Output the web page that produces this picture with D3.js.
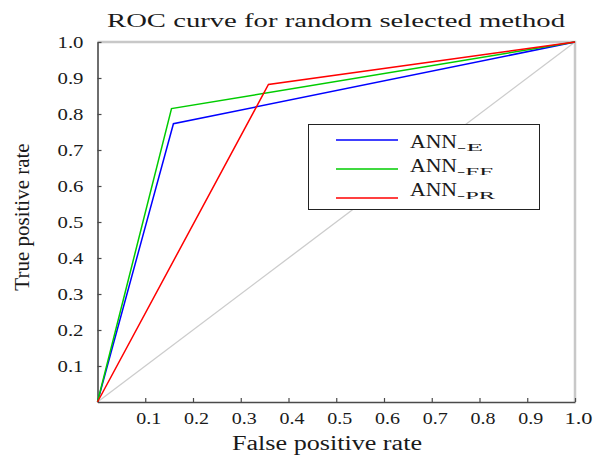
<!DOCTYPE html>
<html>
<head>
<meta charset="utf-8">
<script src="https://cdn.jsdelivr.net/npm/d3@7"></script>
<style>
  html, body { margin: 0; padding: 0; background: #fff; }
</style>
</head>
<body>
<svg id="chart" width="594" height="457"></svg>
<script>
// ROC operating points per model: false positive rate, true positive rate
const seriesNames = ["ANN", "ANN", "ANN"];
const seriesSubs = ["-E", "-FF", "-PR"];
const seriesColors = ["#0000ff", "#00cc00", "#ff0000"];
const fprE  = [0, 0.159, 1];
const tprE  = [0, 0.773, 1];
const fprFF = [0, 0.155, 1];
const tprFF = [0, 0.815, 1];
const fprPR = [0, 0.358, 1];
const tprPR = [0, 0.882, 1];
const chanceLine = [0, 1];
const xTicks = [0.1, 0.2, 0.3, 0.4, 0.5, 0.6, 0.7, 0.8, 0.9, 1.0];
const yTicks = [0.1, 0.2, 0.3, 0.4, 0.5, 0.6, 0.7, 0.8, 0.9, 1.0];

const series = [
  { x: fprE,  y: tprE },
  { x: fprFF, y: tprFF },
  { x: fprPR, y: tprPR }
].map((s, i) => ({ name: seriesNames[i], sub: seriesSubs[i], color: seriesColors[i],
  pts: s.x.map((v, j) => [v, s.y[j]]) }));

const SERIF = "'Liberation Serif', 'Times New Roman', Times, 'DejaVu Serif', serif";
const INK = "#1a1a1a";
const svg = d3.select("#chart");
const L = 97.5, R = 575, T = 42, B = 402;
const x = d3.scaleLinear().domain([0, 1]).range([L, R]);
const y = d3.scaleLinear().domain([0, 1]).range([B, T]);

// serif text, optionally stretched to a given run length
function label(sel, len) {
  sel.style("font-family", SERIF).attr("fill", INK);
  if (len) sel.attr("textLength", len).attr("lengthAdjust", "spacingAndGlyphs");
  return sel;
}

// light frame on top and right
svg.append("path")
  .attr("d", `M${L},${T}H${R}V${B}`)
  .attr("fill", "none").attr("stroke", "#c8c8c8").attr("stroke-width", 2.5);

// chance diagonal
const line = d3.line().x(d => x(d[0])).y(d => y(d[1]));
svg.append("path")
  .datum(chanceLine.map(v => [v, v]))
  .attr("d", line).attr("fill", "none")
  .attr("stroke", "#cccccc").attr("stroke-width", 1.3);

// axes with inward ticks
const fmt = d3.format(".1f");
const xAxis = svg.append("g").attr("transform", `translate(0,${B})`)
  .call(d3.axisBottom(x).tickValues(xTicks).tickSize(-4).tickFormat(fmt).tickSizeOuter(0));
const yAxis = svg.append("g").attr("transform", `translate(${L},0)`)
  .call(d3.axisLeft(y).tickValues(yTicks).tickSize(-4).tickFormat(fmt).tickSizeOuter(0));
[xAxis, yAxis].forEach(g => {
  g.attr("font-family", null).attr("font-size", null);
  g.select(".domain").attr("stroke", "#4a4a4a").attr("stroke-width", 1.6);
  g.selectAll(".tick line").attr("stroke", "#4a4a4a").attr("stroke-width", 1.2);
  g.selectAll(".tick text").attr("font-size", 16);
});
xAxis.selectAll(".tick text")
  .attr("x", 3).attr("y", 22).attr("dy", null)
  .each(function () { label(d3.select(this), this.textContent === "1.0" ? 28 : 25); });
yAxis.selectAll(".tick text")
  .attr("x", -14).attr("dy", "0.33em")
  .each(function () { label(d3.select(this), 26); });

// ROC curves
series.forEach(s => {
  svg.append("path").datum(s.pts).attr("d", line)
    .attr("fill", "none").attr("stroke", s.color).attr("stroke-width", 1.5);
});

// legend
const lg = svg.append("g");
lg.append("rect").attr("x", 308.5).attr("y", 124.5).attr("width", 231).attr("height", 85)
  .attr("fill", "#fff").attr("stroke", "#222").attr("stroke-width", 1);
const subLen = [26, 36, 38];
series.forEach((s, i) => {
  const ly = 140 + i * 29;
  const ty = 148 + i * 24;
  lg.append("line").attr("x1", 336).attr("x2", 398).attr("y1", ly).attr("y2", ly)
    .attr("stroke", s.color).attr("stroke-width", 1.5);
  label(lg.append("text").attr("x", 410).attr("y", ty).attr("font-size", 18).text(s.name), 47);
  label(lg.append("text").attr("x", 457).attr("y", ty + 3).attr("font-size", 11).text(s.sub), subLen[i]);
});

// title and axis labels
label(svg.append("text").attr("x", 107).attr("y", 27)
  .attr("font-size", 19).text("ROC curve for random selected method"), 458);
label(svg.append("text").attr("x", 232).attr("y", 450)
  .attr("font-size", 20).text("False positive rate"), 190);
label(svg.append("text").attr("transform", "translate(29,217) rotate(-90)")
  .attr("text-anchor", "middle").attr("font-size", 21).text("True positive rate"));
</script>
</body>
</html>
